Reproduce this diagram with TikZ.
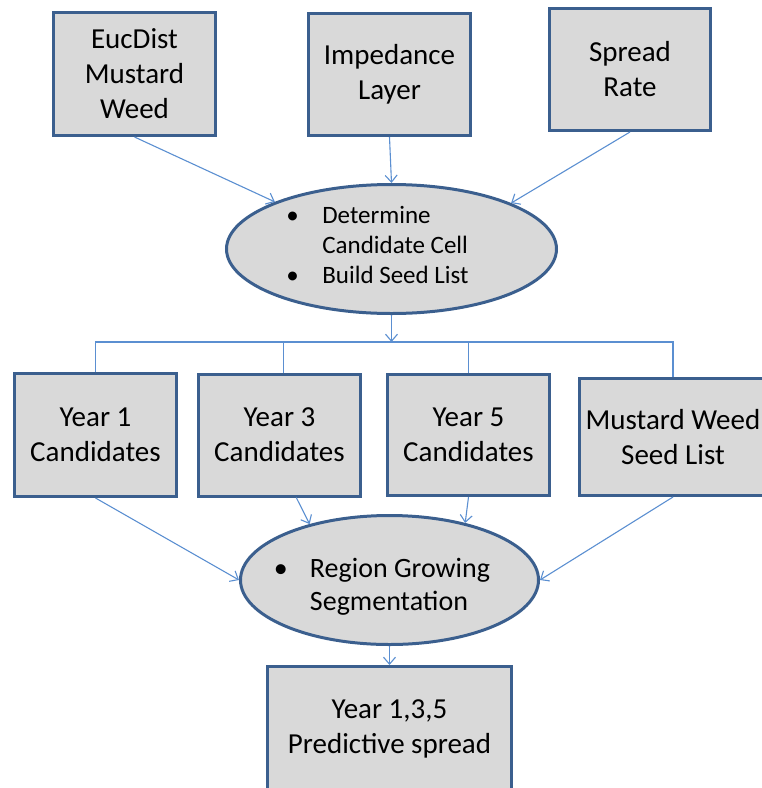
\documentclass[tikz,border=0pt]{standalone}
\usepackage{fontspec}
\setmainfont{Carlito}
\usetikzlibrary{arrows.meta, positioning, calc, shapes.geometric}
\definecolor{nrim}{HTML}{3B5F8E}
\definecolor{ncard}{HTML}{D9D9D9}
\definecolor{nwire}{HTML}{5B8FD1}
\definecolor{nink}{HTML}{000000}
% bullet of a step list: dot plus the indent of the text behind it
\newcommand{\bitem}{\makebox[36pt][l]{\textbullet}}

\begin{document}
\begin{tikzpicture}[
  x=1pt, y=-1pt,
  >={Straight Barb[length=7pt, width=12pt]},
  % a layer or a result is a grey card with a heavy blue rim
  card/.style    = {rectangle, draw=nrim, line width=3pt, fill=ncard,
                    align=center, inner sep=0pt, text=nink,
                    font=\fontsize{29}{35}\selectfont},
  % a processing step is a grey ellipse; its bullet list sits on top of it
  proc/.style    = {ellipse, draw=nrim, line width=3pt, fill=ncard,
                    inner sep=0pt},
  bullets/.style = {align=left, inner sep=0pt, text=nink},
  flow/.style    = {->, draw=nwire, line width=1.1pt},
  bus/.style     = {draw=nwire, line width=1.1pt},
]
\useasboundingbox (0,0) rectangle (762,788);

% ============================ row 1: the three input layers ================
\node[card, minimum width=162pt, minimum height=123pt] (eucdist)
     at (134.5,74) {EucDist\\Mustard\\Weed};
\node[card, minimum width=162pt, minimum height=122pt] (impedance)
     at (389.5,74.5) {Impedance\\Layer};
\node[card, minimum width=161pt, minimum height=122pt] (spreadrate)
     at (630,69.5) {Spread\\Rate};

\node[proc, minimum width=330pt, minimum height=129pt,
      below=46pt of impedance, xshift=2pt] (select) {};
\node[bullets, font=\fontsize{25}{30}\selectfont] (selecttxt)
     at ($(select)+(-14,-4)$)
     {\bitem Determine\\\hspace*{36pt}Candidate Cell\\\bitem Build Seed List};

\draw[flow] (eucdist.south)    -- (select.158);
\draw[flow] (impedance.south)  -- (select.north);
\draw[flow] (spreadrate.south) -- (select.21);

% ============================ row 2: candidates and seeds ==================
\node[card, minimum width=162pt, minimum height=123pt] (year1)
     at (95.5,435) {Year 1\\Candidates};
\node[card, minimum width=162pt, minimum height=122pt,
      right=19pt of year1] (year3) {Year 3\\Candidates};
\node[card, minimum width=162pt, minimum height=121pt,
      right=24pt of year3] (year5) {Year 5\\Candidates};
\node[card, minimum width=187pt, minimum height=117pt,
      right=27pt of year5, yshift=-2pt] (seedlist) {Mustard Weed\\Seed List};

% one bus fans the step out to all four cards
\coordinate[below=27pt of select] (hub);
\draw[flow] (select.south) -- (hub);
\draw[bus] (year1.north) |- (hub) -| (seedlist.north);
\draw[bus] ($(year3.north)+(4,0)$) -- ($(year3.north |- hub)+(4,0)$);
\draw[bus] (year5.north) -- (year5.north |- hub);

% ============================ row 3: grow the regions ======================
\node[proc, minimum width=298pt, minimum height=129pt] (grow) at (389.5,580) {};
\node[bullets, font=\fontsize{28}{33}\selectfont] (growtxt)
     at ($(grow)+(-7.5,7)$)
     {\bitem Region Growing\\\hspace*{36pt}Segmentation};

\draw[flow] (year1.south)    -- (grow.west);
\draw[flow] (year3.285)      -- (grow.145);
\draw[flow] (year5.south)    -- (grow.37);
\draw[flow] (seedlist.south) -- (grow.east);

\node[card, minimum width=244pt, minimum height=125pt,
      below=19pt of grow] (spread) {Year 1,3,5\\Predictive spread};
\draw[flow] (grow.south) -- (spread.north);

\end{tikzpicture}
\end{document}
